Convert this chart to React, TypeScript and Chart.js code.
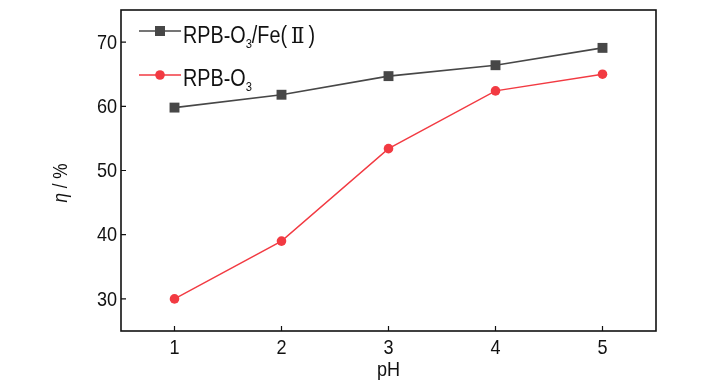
import { useEffect, useRef } from 'react';
import { Chart, registerables } from 'chart.js';

Chart.register(...registerables);

const phValues = [1, 2, 3, 4, 5];
const feSeries = [59.8, 61.8, 64.7, 66.4, 69.1];
const o3Series = [30.0, 39.0, 53.4, 62.4, 65.0];
const xTicks = [1, 2, 3, 4, 5];
const yTicks = [30, 40, 50, 60, 70];
const seriesLabels = ['RPB-O₃/Fe(Ⅱ)', 'RPB-O₃'];
const xTitle = 'pH';
const yTitleSymbol = 'η';
const yTitleRest = ' / %';

const FONT = '"Liberation Sans", Arial, sans-serif';
const SERIF = '"Liberation Serif", "DejaVu Serif", serif';
const GRAY = '#474747';
const RED = '#f23a42';
const NARROW = 0.86;

// legend label pieces (main text, subscript, roman numeral)
const legendPieces = [
  [
    { t: 'RPB-O' },
    { t: '3', sub: true },
    { t: '/Fe(' },
    { t: 'Ⅱ', serif: true },
    { t: ')' },
  ],
  [{ t: 'RPB-O' }, { t: '3', sub: true }],
];

function narrowText(ctx: any, text: string, x: number, y: number, align: string) {
  ctx.save();
  ctx.translate(x, y);
  ctx.scale(NARROW, 1);
  ctx.textAlign = align;
  ctx.fillText(text, 0, 0);
  ctx.restore();
}

const overlay = {
  id: 'overlay',
  afterDraw(chart: any) {
    const { ctx, chartArea } = chart;
    const { left, right, top, bottom } = chartArea;
    const xs = chart.scales.x;
    const ys = chart.scales.y;
    ctx.save();
    // frame
    ctx.strokeStyle = '#111';
    ctx.lineWidth = 1.6;
    ctx.strokeRect(left, top, right - left, bottom - top);
    // inward ticks
    ctx.lineWidth = 1.2;
    ctx.beginPath();
    xTicks.forEach((v) => {
      const px = xs.getPixelForValue(v);
      ctx.moveTo(px, bottom);
      ctx.lineTo(px, bottom - 5);
    });
    yTicks.forEach((v) => {
      const py = ys.getPixelForValue(v);
      ctx.moveTo(left, py);
      ctx.lineTo(left + 5, py);
    });
    ctx.stroke();

    // tick labels
    ctx.fillStyle = '#111';
    ctx.font = `21px ${FONT}`;
    ctx.textBaseline = 'middle';
    yTicks.forEach((v) => {
      narrowText(ctx, String(v), left - 4, ys.getPixelForValue(v) + 1, 'right');
    });
    ctx.textBaseline = 'top';
    xTicks.forEach((v) => {
      narrowText(ctx, String(v), xs.getPixelForValue(v), bottom + 7, 'center');
    });
    // x title
    ctx.textBaseline = 'top';
    narrowText(ctx, xTitle, (left + right) / 2, bottom + 29, 'center');

    // legend
    const items = chart.data.datasets;
    const rows = [
      { lineY: top + 21, base: top + 33 },
      { lineY: top + 65, base: top + 76 },
    ];
    items.forEach((ds: any, i: number) => {
      const r = rows[i];
      const x0 = left + 18;
      const x1 = left + 60;
      ctx.strokeStyle = ds.borderColor;
      ctx.lineWidth = 1.5;
      ctx.beginPath();
      ctx.moveTo(x0, r.lineY);
      ctx.lineTo(x1, r.lineY);
      ctx.stroke();
      ctx.fillStyle = ds.pointBackgroundColor;
      const cx = (x0 + x1) / 2;
      if (ds.pointStyle === 'rect') {
        ctx.fillRect(cx - 5, r.lineY - 5, 10, 10);
      } else {
        ctx.beginPath();
        ctx.arc(cx, r.lineY, 4.8, 0, Math.PI * 2);
        ctx.fill();
      }
      let tx = x1 + 2;
      ctx.fillStyle = '#111';
      ctx.textBaseline = 'alphabetic';
      legendPieces[i].forEach((p: any) => {
        if (p.sub) {
          ctx.font = `13px ${FONT}`;
          narrowText(ctx, p.t, tx, r.base + 5, 'left');
          tx += ctx.measureText(p.t).width * NARROW;
        } else if (p.serif) {
          ctx.font = `23px ${SERIF}`;
          narrowText(ctx, p.t, tx + 4, r.base, 'left');
          tx += ctx.measureText(p.t).width * NARROW + 8;
        } else {
          ctx.font = `23px ${FONT}`;
          narrowText(ctx, p.t, tx, r.base, 'left');
          tx += ctx.measureText(p.t).width * NARROW;
        }
      });
    });

    // y title
    ctx.translate(61, 183);
    ctx.rotate(-Math.PI / 2);
    ctx.scale(NARROW, 1);
    ctx.fillStyle = '#111';
    ctx.textBaseline = 'middle';
    ctx.font = `italic 20px ${FONT}`;
    const w1 = ctx.measureText(yTitleSymbol).width;
    ctx.font = `20px ${FONT}`;
    const w2 = ctx.measureText(yTitleRest).width;
    const sx = -(w1 + w2) / 2;
    ctx.textAlign = 'left';
    ctx.font = `italic 20px ${FONT}`;
    ctx.fillText(yTitleSymbol, sx, 0);
    ctx.font = `20px ${FONT}`;
    ctx.fillText(yTitleRest, sx + w1, 0);
    ctx.restore();
  },
};

export default function App() {
  const ref = useRef<HTMLCanvasElement>(null);
  useEffect(() => {
    document.body.style.margin = '0';
    const chart = new Chart(ref.current as HTMLCanvasElement, {
      type: 'line',
      data: {
        datasets: [
          {
            label: seriesLabels[0],
            data: phValues.map((x, i) => ({ x, y: feSeries[i] })),
            borderColor: GRAY,
            backgroundColor: GRAY,
            pointBackgroundColor: GRAY,
            pointBorderColor: GRAY,
            pointStyle: 'rect',
            pointRadius: 7,
            borderWidth: 1.6,
            pointBorderWidth: 0,
          },
          {
            label: seriesLabels[1],
            data: phValues.map((x, i) => ({ x, y: o3Series[i] })),
            borderColor: RED,
            backgroundColor: RED,
            pointBackgroundColor: RED,
            pointBorderColor: RED,
            pointStyle: 'circle',
            pointRadius: 4.8,
            borderWidth: 1.4,
            pointBorderWidth: 0,
          },
        ],
      },
      options: {
        animation: false,
        responsive: false,
        maintainAspectRatio: false,
        layout: { padding: { left: 0, right: 72, top: 10, bottom: 0 } },
        plugins: { legend: { display: false }, tooltip: { enabled: false } },
        scales: {
          x: {
            type: 'linear',
            min: 0.5,
            max: 5.5,
            afterBuildTicks: (s: any) => {
              s.ticks = xTicks.map((v) => ({ value: v }));
            },
            afterFit: (s: any) => {
              s.height = 59;
              s.paddingLeft = 0;
              s.paddingRight = 0;
            },
            grid: { display: false },
            border: { display: false },
            ticks: { display: false },
          },
          y: {
            type: 'linear',
            min: 25,
            max: 75,
            afterBuildTicks: (s: any) => {
              s.ticks = yTicks.map((v) => ({ value: v }));
            },
            afterFit: (s: any) => {
              s.width = 121;
              s.paddingTop = 0;
              s.paddingBottom = 0;
            },
            grid: { display: false },
            border: { display: false },
            ticks: { display: false },
          },
        },
      },
      plugins: [overlay],
    });
    return () => chart.destroy();
  }, []);
  return <canvas ref={ref} width={728} height={390} style={{ display: 'block' }} />;
}
